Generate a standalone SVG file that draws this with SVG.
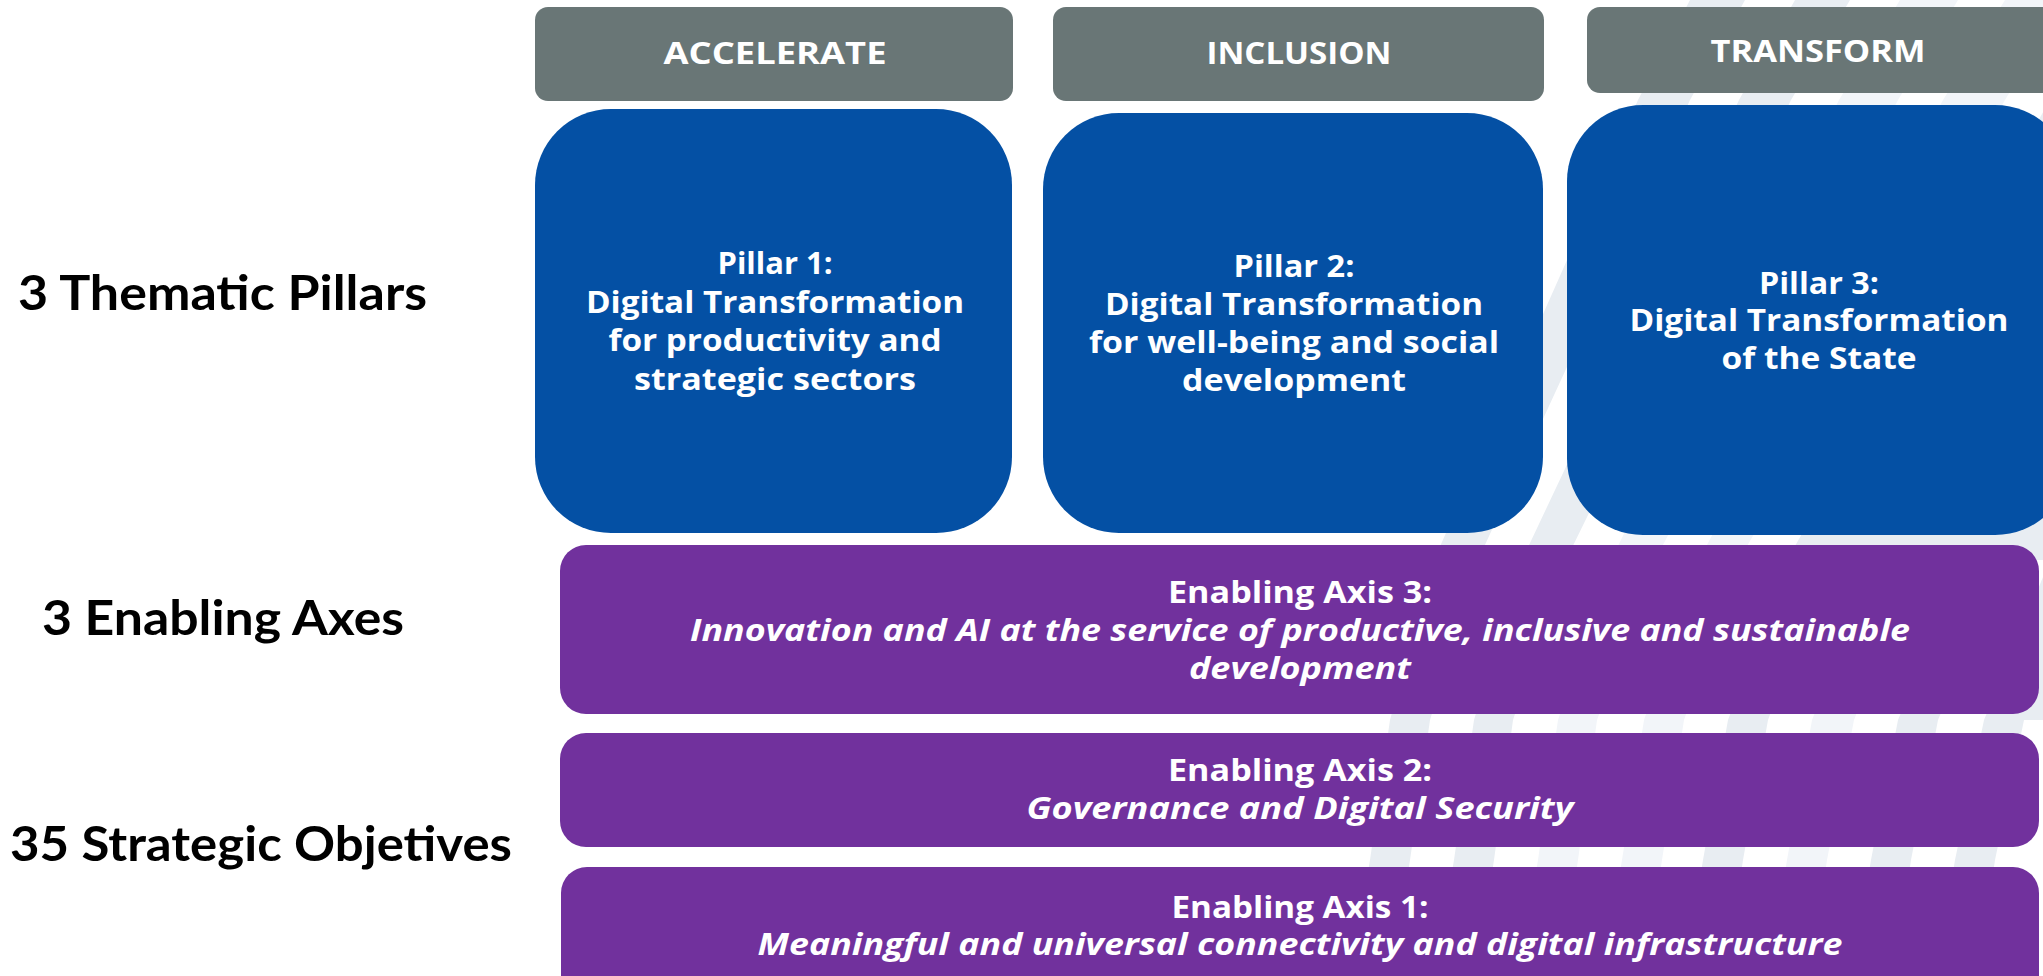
<svg xmlns="http://www.w3.org/2000/svg" width="2043" height="976" viewBox="0 0 2043 976">
  <style>
    .hdr { fill: #697676; }
    .pillar { fill: #0450A4; }
    .axis { fill: #71319D; }
    .wm1 { fill: #e8edf2; }
    .wm2 { fill: #f2f5f9; }
    .t { font-family: "Open Sans", "Liberation Sans", sans-serif; font-weight: 700; fill: #ffffff; text-anchor: middle; }
    .hdrT { font-size: 30px; }
    .pT { font-size: 29.5px; }
    .aT { font-size: 29.5px; }
    .it { font-style: italic; }
    .lbl { font-family: "Lato", "Liberation Sans", sans-serif; font-weight: 700; font-size: 48px; fill: #000000; }
  </style>
  <rect x="0" y="0" width="2043" height="976" fill="#ffffff"/>
  <g id="watermark">
    <polygon class="wm1" points="1350,976 1370,860 1390,720 1434,560 1638,100 1690,0 1745,0 1690,100 1478,560 1430,720 1410,860 1392,976"/>
    <polygon class="wm1" points="1434,976 1454,860 1474,720 1522,560 1739,100 1795,0 1850,0 1791,100 1566,560 1513,720 1494,860 1476,976"/>
    <polygon class="wm2" points="1518,976 1538,860 1558,720 1611,560 1839,100 1900,0 1958,0 1898,100 1655,560 1597,720 1578,860 1560,976"/>
    <polygon class="wm2" points="1602,976 1622,860 1644,720 1699,560 1943,100 2005,0 2065,0 2005,100 1739,560 1684,720 1662,860 1644,976"/>
    <polygon class="wm1" points="1684,976 1703,860 1728,720 1787,560 2050,100 2050,560 1827,560 1768,720 1743,860 1726,976"/>
    <polygon class="wm2" points="1768,976 1787,860 1812,720 1876,560 1916,560 1854,720 1827,860 1810,976"/>
    <polygon class="wm1" points="1852,976 1871,860 1898,720 1964,560 2004,560 1938,720 1911,860 1894,976"/>
    <polygon class="wm1" points="1936,976 1955,860 1984,720 2050,560 2050,720 2024,720 1995,860 1978,976"/>
  </g>
  <g id="labels">
    <text class="lbl" x="18" y="310" textLength="409" lengthAdjust="spacingAndGlyphs">3 Thematic Pillars</text>
    <text class="lbl" x="42" y="635" textLength="362" lengthAdjust="spacingAndGlyphs">3 Enabling Axes</text>
    <text class="lbl" x="10" y="861" textLength="502" lengthAdjust="spacingAndGlyphs">35 Strategic Objetives</text>
  </g>
  <g id="header-accelerate">
    <rect class="hdr" x="535" y="7" width="478" height="94" rx="13"/>
    <text class="t hdrT" x="775" y="64" textLength="223" lengthAdjust="spacingAndGlyphs">ACCELERATE</text>
  </g>
  <g id="header-inclusion">
    <rect class="hdr" x="1053" y="7" width="491" height="94" rx="13"/>
    <text class="t hdrT" x="1299" y="64" textLength="185" lengthAdjust="spacingAndGlyphs">INCLUSION</text>
  </g>
  <g id="header-transform">
    <rect class="hdr" x="1587" y="7" width="470" height="86" rx="13"/>
    <text class="t hdrT" x="1818" y="62" textLength="215" lengthAdjust="spacingAndGlyphs">TRANSFORM</text>
  </g>
  <g id="pillar-1">
    <rect class="pillar" x="535" y="109" width="477" height="424" rx="76"/>
    <text class="t pT" x="775" y="274" textLength="115" lengthAdjust="spacingAndGlyphs">Pillar 1:</text>
    <text class="t pT" x="775" y="313" textLength="378" lengthAdjust="spacingAndGlyphs">Digital Transformation</text>
    <text class="t pT" x="775" y="351" textLength="333" lengthAdjust="spacingAndGlyphs">for productivity and</text>
    <text class="t pT" x="775" y="390" textLength="282" lengthAdjust="spacingAndGlyphs">strategic sectors</text>
  </g>
  <g id="pillar-2">
    <rect class="pillar" x="1043" y="113" width="500" height="420" rx="76"/>
    <text class="t pT" x="1294" y="277" textLength="121" lengthAdjust="spacingAndGlyphs">Pillar 2:</text>
    <text class="t pT" x="1294" y="315" textLength="378" lengthAdjust="spacingAndGlyphs">Digital Transformation</text>
    <text class="t pT" x="1294" y="353" textLength="410" lengthAdjust="spacingAndGlyphs">for well-being and social</text>
    <text class="t pT" x="1294" y="391" textLength="224" lengthAdjust="spacingAndGlyphs">development</text>
  </g>
  <g id="pillar-3">
    <rect class="pillar" x="1567" y="105" width="504" height="430" rx="76"/>
    <text class="t pT" x="1819" y="294" textLength="120" lengthAdjust="spacingAndGlyphs">Pillar 3:</text>
    <text class="t pT" x="1819" y="331" textLength="379" lengthAdjust="spacingAndGlyphs">Digital Transformation</text>
    <text class="t pT" x="1819" y="369" textLength="195" lengthAdjust="spacingAndGlyphs">of the State</text>
  </g>
  <g id="axis-3">
    <rect class="axis" x="560" y="545" width="1479" height="169" rx="26"/>
    <text class="t aT" x="1300" y="603" textLength="264" lengthAdjust="spacingAndGlyphs">Enabling Axis 3:</text>
    <text class="t aT it" x="1300" y="641" textLength="1220" lengthAdjust="spacingAndGlyphs">Innovation and AI at the service of productive, inclusive and sustainable</text>
    <text class="t aT it" x="1300" y="679" textLength="222" lengthAdjust="spacingAndGlyphs">development</text>
  </g>
  <g id="axis-2">
    <rect class="axis" x="560" y="733" width="1479" height="114" rx="26"/>
    <text class="t aT" x="1300" y="781" textLength="264" lengthAdjust="spacingAndGlyphs">Enabling Axis 2:</text>
    <text class="t aT it" x="1300" y="819" textLength="547" lengthAdjust="spacingAndGlyphs">Governance and Digital Security</text>
  </g>
  <g id="axis-1">
    <rect class="axis" x="561" y="867" width="1478" height="140" rx="26"/>
    <text class="t aT" x="1300" y="918" textLength="257" lengthAdjust="spacingAndGlyphs">Enabling Axis 1:</text>
    <text class="t aT it" x="1300" y="955" textLength="1085" lengthAdjust="spacingAndGlyphs">Meaningful and universal connectivity and digital infrastructure</text>
  </g>
  <g id="connectors"></g>
</svg>
